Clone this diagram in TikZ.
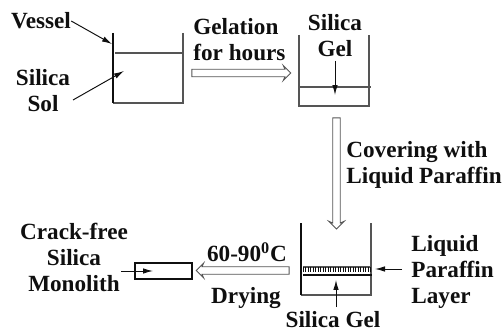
\documentclass[tikz,border=0pt]{standalone}
\usepackage{fontspec}
\setmainfont{Liberation Serif}
\usetikzlibrary{arrows.meta,positioning,calc,shapes.arrows}
\definecolor{SolInk}{RGB}{15,15,15}
\definecolor{SolWall}{RGB}{85,85,85}
\tikzset{
  sol/label/.style={
    font=\fontsize{13.2}{14.8}\selectfont\bfseries,
    text=SolInk,
    align=center,
    inner sep=0pt
  },
  sol/leftlabel/.style={sol/label, align=left, anchor=west},
  sol/wall/.style={draw=SolWall, line width=0.6pt},
  sol/thickwall/.style={draw=SolInk, line width=1pt},
  sol/arrow/.style={-{Latex[length=2mm,width=1.1mm]}, line width=0.55pt, draw=SolInk},
  sol/hollow/.style={
    single arrow,
    draw=SolWall,
    line width=0.5pt,
    fill=white,
    inner xsep=0pt,
    inner ysep=1.9pt,
    single arrow head extend=2.2pt,
    single arrow head indent=1pt
  }
}
\begin{document}
\begin{tikzpicture}[x=0.02cm,y=-0.02cm]
  \useasboundingbox (0,0) rectangle (504,331);
  % labels
  \node[sol/label] (lblvessel) at (41,21) {Vessel};
  \node[sol/label] (lblsol) at (43,91) {Silica\\Sol};
  \node[sol/leftlabel] (lblgelation) at (193,40) {Gelation\\for hours};
  \node[sol/label] (lblgel) at (335,36) {Silica\\Gel};
  \node[sol/leftlabel] (lblcover) at (346,165) {Covering with\\Liquid Paraffin};
  \node[sol/label] (lbltemp) at (247,252) {60-90\textsuperscript{0}C};
  \node[sol/label] (lbldrying) at (246,298) {Drying};
  \node[sol/label] (lblmonolith) at (74,257) {Crack-free\\Silica\\Monolith};
  \node[sol/leftlabel] (lblwax) at (411,272) {Liquid\\Paraffin\\Layer};
  \node[sol/label] (lblgeltwo) at (333,320) {Silica Gel};
  % vessels
  \draw[sol/wall] (183,33) -- (183,103) -- (113,103);
  \draw[sol/thickwall] (113,33) -- (113,103);
  \draw[sol/wall] (115,53) -- (184,53);
  \draw[sol/wall] (299,35) -- (299,106) -- (369,106) -- (369,35);
  \draw[sol/wall] (299,87) -- (371,87);
  \draw[sol/wall] (371,223) -- (371,295) -- (301,295);
  \draw[sol/thickwall] (301,223) -- (301,295);
  \draw[sol/thickwall] (135,263) rectangle (192,279);
  % paraffin layer
  \draw[sol/wall] (303,267) -- (372,267);
  \draw[sol/thickwall] (303,275) -- (372,275);
  \foreach \x in {303,305.5,...,372}
  {\draw[draw=SolInk, line width=0.45pt] (\x,267) -- (\x,272);}
  % end points
  \coordinate (vesselwall) at (112,44);
  \coordinate (solout) at (73,100);
  \coordinate (solin) at (124,71);
  \coordinate (gelout) at (335,61);
  \coordinate (gelin) at (335,95);
  \coordinate (waxout) at (402,269);
  \coordinate (waxin) at (375,269);
  \coordinate (layerout) at (336,307);
  \coordinate (layerin) at (336,280);
  \coordinate (tubeout) at (121,271);
  \coordinate (tubein) at (153,271);
  % connectors
  \draw[sol/arrow] (lblvessel.east) -- (vesselwall);
  \draw[sol/arrow] (solout) -- (solin);
  \draw[sol/arrow] (gelout) -- (gelin);
  \draw[sol/arrow] (waxout) -- (waxin);
  \draw[sol/arrow] (layerout) -- (layerin);
  \draw[sol/arrow] (tubeout) -- (tubein);
  % process arrows
  \node[sol/hollow, minimum height=56.3pt] (gelationarrow) at (239.5,73) {};
  \node[sol/hollow, minimum height=63.2pt, rotate=-90] (coverarrow) at (336.5,171.5) {};
  \node[sol/hollow, minimum height=52.9pt, rotate=180] (dryingarrow) at (244.5,270.5) {};
\end{tikzpicture}
\end{document}
